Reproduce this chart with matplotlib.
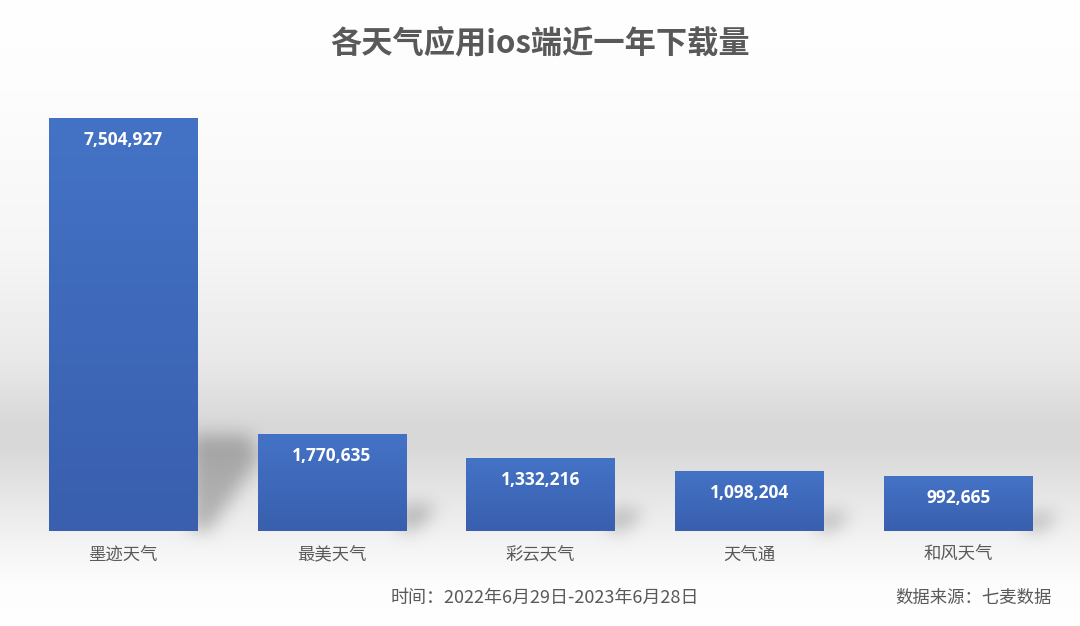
import numpy as np
import matplotlib
matplotlib.use("Agg")
import matplotlib.pyplot as plt
from matplotlib.path import Path

plt.rcParams['font.family'] = ['Noto Sans CJK SC', 'DejaVu Sans']

# data
apps = ['墨迹天气', '最美天气', '彩云天气', '天气通', '和风天气']
downloads = [7504927, 1770635, 1332216, 1098204, 992665]

title = '各天气应用ios端近一年下载量'
time_note = '时间：2022年6月29日-2023年6月28日'
source_note = '数据来源：七麦数据'

W, H = 1080, 626
fig = plt.figure(figsize=(W / 100, H / 100), dpi=100)

# axes placed so bars sit on y=531px and span the width
ax = fig.add_axes([18.6 / W, 1 - 531 / H, (1062.6 - 18.6) / W, (531 - 80) / H])
ax.set_xlim(-0.5, len(apps) - 0.5)
ax.set_ylim(0, 8.195e6)
ax.patch.set_alpha(0)
for s in ax.spines.values():
    s.set_visible(False)
ax.set_yticks([])
x = np.arange(len(apps))
ax.set_xticks(x)
ax.set_xticklabels(apps, fontsize=12.5, color='#595959')
ax.tick_params(axis='x', length=0, pad=11)

# background: vertical grey gradient + soft shadows behind bars
rows = np.arange(H)
knots_y = [0, 90, 250, 360, 425, 445, 500, 540, 585, 626]
knots_v = [255, 253, 246, 233, 216, 216, 232, 243, 253, 255]
prof = np.interp(rows, knots_y, knots_v) / 255.0
bg = np.repeat(prof[:, None], W, axis=1)

bw = 0.71
mask = np.zeros((H, W))
yy, xx = np.mgrid[0:H, 0:W]
pts = np.column_stack([xx.ravel() + 0.5, yy.ravel() + 0.5])
for xi, v in zip(x, downloads):
    xr_d, base_d = ax.transData.transform((xi + bw / 2, 0))
    _, top_d = ax.transData.transform((xi, v))
    xr = xr_d
    base = H - base_d
    h = top_d - base_d
    sh = 0.22 * h + 5
    ext = 0.1 * h + 20
    poly = Path([(xr - 6, base), (xr - 6, base - sh), (xr + ext * 0.85, base - sh),
                 (xr + ext, base - sh * 0.75), (xr + ext * 0.2, base), (xr - 6, base)])
    inside = poly.contains_points(pts).reshape(H, W)
    mask = np.maximum(mask, inside.astype(float))

k = np.ones(17) / 17.0
for _ in range(3):
    mask = np.apply_along_axis(lambda r: np.convolve(r, k, mode='same'), 1, mask)
    mask = np.apply_along_axis(lambda c: np.convolve(c, k, mode='same'), 0, mask)
bg = bg * (1 - 0.24 * mask)
bg_rgb = np.dstack([bg, bg, bg])

bg_ax = fig.add_axes([0, 0, 1, 1], zorder=-1)
bg_ax.imshow(bg_rgb, aspect='auto', extent=[0, 1, 0, 1], interpolation='bilinear')
bg_ax.axis('off')

# bars with a slight top-to-bottom blue gradient
bars = ax.bar(x, downloads, width=bw, color='#4170c2', zorder=2)
top_c = np.array([0x44, 0x73, 0xc6]) / 255
bot_c = np.array([0x39, 0x5f, 0xae]) / 255
grad = np.linspace(0, 1, 100)[:, None, None]
grad_img = top_c * (1 - grad) + bot_c * grad
for b, v in zip(bars, downloads):
    im = ax.imshow(grad_img, extent=[b.get_x(), b.get_x() + b.get_width(), 0, v],
                   aspect='auto', zorder=3, interpolation='bilinear')
    im.set_clip_path(b)
    ax.annotate(f'{v:,}', xy=(b.get_x() + b.get_width() / 2, v), xytext=(0, -22),
                textcoords='offset pixels', ha='center', va='center',
                color='white', fontsize=12.5, fontweight='bold',
                family=['Open Sans', 'DejaVu Sans'], zorder=4)
ax.set_xlim(-0.5, len(apps) - 0.5)
ax.set_ylim(0, 8.195e6)
ax.set_aspect('auto')

fig.text(0.5, 1 - 43 / H, title, ha='center', va='center', fontsize=22.5,
         fontweight='bold', color='#595959')
fig.text(545 / W, 1 - 598 / H, time_note, ha='center', va='center',
         fontsize=13, color='#595959')
fig.text(1052 / W, 1 - 598 / H, source_note, ha='right', va='center',
         fontsize=12.5, color='#595959', style='italic')

fig.savefig('out.png', dpi=100)
